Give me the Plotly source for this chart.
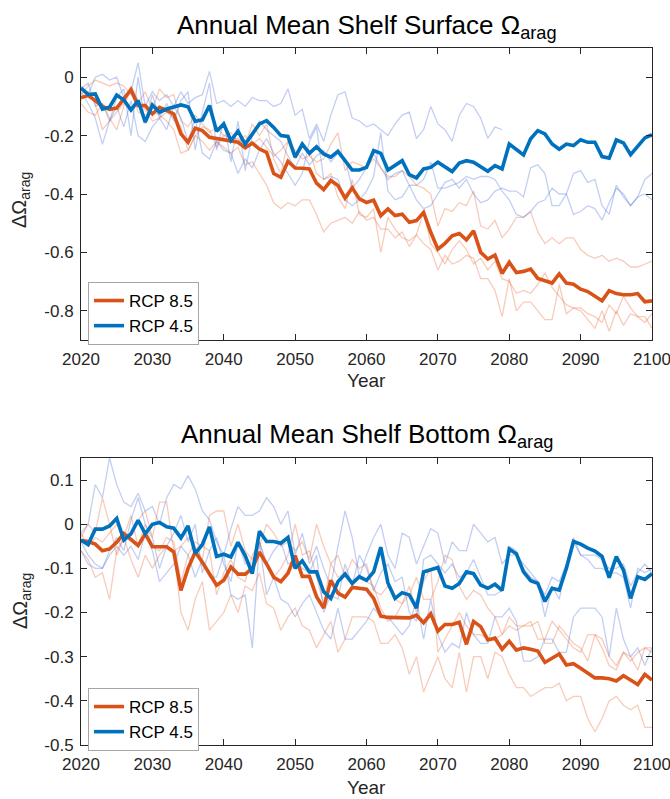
import plotly.graph_objects as go

years = list(range(2020, 2101))

# ---------------- Top panel: shelf surface ----------------
top_rcp85_mean = [
    -0.070, -0.063, -0.080, -0.100, -0.110, -0.106, -0.074, -0.043, -0.097, -0.097,
    -0.126, -0.103, -0.114, -0.126, -0.194, -0.223, -0.175, -0.183, -0.206, -0.211,
    -0.214, -0.219, -0.223, -0.242, -0.226, -0.246, -0.257, -0.330, -0.343, -0.288,
    -0.311, -0.312, -0.314, -0.363, -0.385, -0.354, -0.371, -0.414, -0.379, -0.417,
    -0.429, -0.421, -0.474, -0.451, -0.474, -0.469, -0.497, -0.491, -0.463, -0.531,
    -0.589, -0.569, -0.543, -0.535, -0.557, -0.526, -0.600, -0.623, -0.609, -0.672,
    -0.634, -0.669, -0.665, -0.657, -0.689, -0.697, -0.705, -0.674, -0.705, -0.709,
    -0.726, -0.734, -0.751, -0.766, -0.731, -0.741, -0.745, -0.745, -0.741, -0.769,
    -0.766]
top_rcp45_mean = [
    -0.037, -0.059, -0.057, -0.109, -0.103, -0.061, -0.078, -0.112, -0.080, -0.154,
    -0.095, -0.120, -0.109, -0.101, -0.095, -0.101, -0.151, -0.146, -0.097, -0.185,
    -0.160, -0.217, -0.185, -0.229, -0.194, -0.160, -0.149, -0.172, -0.200, -0.203,
    -0.274, -0.229, -0.261, -0.238, -0.263, -0.274, -0.254, -0.286, -0.318, -0.318,
    -0.309, -0.251, -0.261, -0.318, -0.303, -0.286, -0.334, -0.345, -0.314, -0.309,
    -0.291, -0.306, -0.323, -0.294, -0.286, -0.291, -0.306, -0.322, -0.303, -0.314,
    -0.229, -0.249, -0.266, -0.211, -0.183, -0.194, -0.229, -0.247, -0.229, -0.234,
    -0.214, -0.223, -0.223, -0.272, -0.277, -0.215, -0.225, -0.265, -0.234, -0.208,
    -0.197]
top_rcp85_m1 = [
    -0.06, -0.03, -0.01, -0.02, -0.03, -0.02, -0.03, -0.06, -0.09, -0.05,
    -0.11, -0.04, -0.07, -0.06, -0.15, -0.17, -0.13, -0.16, -0.19, -0.17,
    -0.20, -0.19, -0.22, -0.20, -0.23, -0.21, -0.24, -0.27, -0.25, -0.22,
    -0.25, -0.28, -0.27, -0.29, -0.28, -0.23, -0.19, -0.32, -0.29, -0.30,
    -0.31, -0.28, -0.31, -0.34, -0.34, -0.32, -0.34, -0.37, -0.38, -0.40,
    -0.51, -0.45, -0.46, -0.43, -0.44, -0.39, -0.51, -0.52, -0.49, -0.55,
    -0.52, -0.48, -0.48, -0.46, -0.53, -0.57, -0.55, -0.57, -0.55, -0.55,
    -0.59, -0.61, -0.62, -0.61, -0.63, -0.62, -0.63, -0.65, -0.65, -0.64,
    -0.63]
top_rcp85_m2 = [
    -0.09, -0.12, -0.13, -0.09, -0.14, -0.18, -0.10, -0.04, -0.12, -0.13,
    -0.12, -0.13, -0.15, -0.18, -0.26, -0.25, -0.20, -0.22, -0.25, -0.22,
    -0.24, -0.26, -0.24, -0.30, -0.29, -0.33, -0.37, -0.43, -0.45, -0.43,
    -0.44, -0.42, -0.42, -0.47, -0.53, -0.50, -0.49, -0.48, -0.50, -0.46,
    -0.49, -0.48, -0.52, -0.52, -0.55, -0.53, -0.58, -0.54, -0.57, -0.59,
    -0.66, -0.61, -0.64, -0.63, -0.61, -0.62, -0.69, -0.69, -0.73, -0.82,
    -0.69, -0.80, -0.77, -0.77, -0.80, -0.83, -0.83, -0.71, -0.81, -0.79,
    -0.80, -0.83, -0.86, -0.80, -0.87, -0.80, -0.85, -0.81, -0.82, -0.84,
    -0.81]
top_rcp85_m3 = [
    -0.08, -0.05, -0.09, -0.18, -0.15, -0.12, -0.09, -0.03, -0.08, -0.11,
    -0.15, -0.14, -0.12, -0.14, -0.17, -0.25, -0.20, -0.17, -0.18, -0.24,
    -0.20, -0.21, -0.21, -0.23, -0.16, -0.20, -0.16, -0.28, -0.33, -0.22,
    -0.28, -0.24, -0.25, -0.33, -0.35, -0.33, -0.41, -0.45, -0.35, -0.47,
    -0.48, -0.45, -0.60, -0.48, -0.52, -0.55, -0.56, -0.54, -0.46, -0.57,
    -0.60, -0.64, -0.59, -0.56, -0.59, -0.64, -0.62, -0.66, -0.63, -0.69,
    -0.70, -0.74, -0.73, -0.74, -0.71, -0.67, -0.72, -0.75, -0.78, -0.79,
    -0.79, -0.81, -0.82, -0.84, -0.78, -0.81, -0.75, -0.79, -0.82, -0.82,
    -0.86]
top_rcp45_m1 = [  # 2020-2079
    -0.03, -0.06, 0.00, 0.01, -0.01, 0.00, -0.07, -0.05, 0.05, -0.10,
    -0.05, -0.08, -0.06, -0.10, -0.05, -0.09, -0.07, -0.06, 0.02, -0.09,
    -0.08, -0.10, -0.08, -0.10, -0.07, -0.08, -0.08, -0.10, -0.09, -0.04,
    -0.13, -0.11, -0.21, -0.16, -0.22, -0.13, -0.06, -0.05, -0.14, -0.15,
    -0.17, -0.16, -0.18, -0.20, -0.16, -0.13, -0.12, -0.21, -0.18, -0.10,
    -0.16, -0.18, -0.22, -0.13, -0.09, -0.10, -0.14, -0.21, -0.17, -0.18]
top_rcp45_m2 = [
    -0.05, -0.09, -0.14, -0.23, -0.15, -0.10, -0.17, -0.08, -0.20, -0.22,
    -0.17, -0.14, -0.18, -0.10, -0.14, -0.22, -0.14, -0.26, -0.28, -0.22,
    -0.25, -0.26, -0.33, -0.28, -0.31, -0.25, -0.21, -0.26, -0.29, -0.33,
    -0.37, -0.33, -0.22, -0.17, -0.35, -0.34, -0.35, -0.42, -0.44, -0.42,
    -0.39, -0.34, -0.19, -0.39, -0.42, -0.41, -0.37, -0.42, -0.45, -0.44,
    -0.40, -0.36, -0.35, -0.38, -0.35, -0.40, -0.43, -0.42, -0.39, -0.38,
    -0.39, -0.39, -0.41, -0.31, -0.30, -0.33, -0.44, -0.44, -0.40, -0.33,
    -0.32, -0.36, -0.35, -0.44, -0.47, -0.37, -0.41, -0.44, -0.41, -0.40,
    -0.42]
top_rcp45_m3 = [
    -0.04, -0.02, -0.10, -0.09, -0.15, -0.07, -0.04, -0.20, 0.00, -0.16,
    -0.06, -0.14, -0.09, -0.15, -0.08, -0.05, -0.25, -0.12, -0.02, -0.25,
    -0.15, -0.29, -0.15, -0.32, -0.20, -0.15, -0.18, -0.20, -0.22, -0.27,
    -0.31, -0.26, -0.30, -0.27, -0.25, -0.29, -0.26, -0.28, -0.38, -0.35,
    -0.31, -0.26, -0.31, -0.35, -0.33, -0.32, -0.37, -0.37, -0.35, -0.29,
    -0.38, -0.38, -0.37, -0.36, -0.34, -0.35, -0.34, -0.34, -0.35, -0.39,
    -0.42, -0.47, -0.48, -0.46, -0.43, -0.42, -0.38, -0.40, -0.40, -0.47,
    -0.46, -0.44, -0.45, -0.49, -0.43, -0.38, -0.40, -0.44, -0.41, -0.35,
    -0.33]

# ---------------- Bottom panel: shelf bottom ----------------
bot_rcp85_mean = [
    -0.037, -0.039, -0.045, -0.060, -0.056, -0.041, -0.021, -0.034, -0.048, -0.022,
    -0.051, -0.051, -0.051, -0.063, -0.150, -0.100, -0.063, -0.086, -0.112, -0.138,
    -0.127, -0.097, -0.113, -0.113, -0.100, -0.063, -0.090, -0.120, -0.130, -0.111,
    -0.071, -0.118, -0.118, -0.164, -0.190, -0.127, -0.156, -0.165, -0.143, -0.145,
    -0.147, -0.168, -0.208, -0.211, -0.212, -0.212, -0.212, -0.206, -0.223, -0.203,
    -0.242, -0.227, -0.227, -0.222, -0.272, -0.220, -0.232, -0.262, -0.258, -0.283,
    -0.265, -0.285, -0.280, -0.283, -0.287, -0.313, -0.304, -0.294, -0.319, -0.316,
    -0.326, -0.337, -0.348, -0.348, -0.350, -0.355, -0.343, -0.353, -0.363, -0.340,
    -0.353]
bot_rcp45_mean = [
    -0.036, -0.046, -0.011, -0.011, -0.004, 0.013, -0.036, -0.022, 0.009, -0.022,
    0.000, 0.004, -0.006, -0.009, -0.031, -0.004, -0.066, -0.046, -0.006, -0.073,
    -0.068, -0.074, -0.041, -0.071, -0.112, -0.016, -0.039, -0.039, -0.043, -0.030,
    -0.100, -0.083, -0.108, -0.108, -0.153, -0.168, -0.130, -0.113, -0.134, -0.119,
    -0.127, -0.108, -0.052, -0.133, -0.168, -0.155, -0.160, -0.190, -0.108, -0.104,
    -0.098, -0.140, -0.145, -0.134, -0.108, -0.112, -0.138, -0.145, -0.136, -0.150,
    -0.056, -0.067, -0.108, -0.128, -0.134, -0.175, -0.145, -0.149, -0.100, -0.039,
    -0.045, -0.054, -0.061, -0.073, -0.121, -0.073, -0.104, -0.168, -0.119, -0.125,
    -0.112]
bot_rcp85_m1 = [
    -0.03, 0.00, -0.02, 0.06, 0.00, -0.07, -0.03, -0.02, 0.01, 0.03,
    -0.03, 0.05, 0.05, -0.06, -0.05, -0.03, -0.05, -0.08, 0.02, 0.03,
    0.03, -0.05, 0.00, -0.06, -0.08, -0.05, 0.00, -0.02, -0.05, -0.04,
    -0.06, -0.04, -0.08, 0.00, -0.05, -0.09, -0.07, -0.12, -0.08, -0.10,
    -0.09, -0.15, -0.16, -0.14, -0.17, -0.18, -0.16, -0.12, -0.17, -0.17,
    -0.13, -0.07, -0.08, -0.14, -0.17, -0.15, -0.16, -0.19, -0.21, -0.25,
    -0.21, -0.23, -0.23, -0.22, -0.26, -0.26, -0.22, -0.24, -0.26, -0.28,
    -0.29, -0.25, -0.25, -0.26, -0.30, -0.32, -0.29, -0.31, -0.29, -0.28,
    -0.28]
bot_rcp85_m2 = [
    -0.06, -0.08, -0.12, -0.11, -0.17, -0.06, -0.03, -0.08, -0.12, -0.07,
    -0.10, -0.07, -0.05, -0.06, -0.20, -0.24, -0.17, -0.13, -0.24, -0.22,
    -0.20, -0.16, -0.20, -0.14, -0.15, -0.11, -0.18, -0.19, -0.24, -0.21,
    -0.19, -0.23, -0.24, -0.28, -0.25, -0.22, -0.29, -0.26, -0.21, -0.21,
    -0.21, -0.22, -0.27, -0.27, -0.25, -0.28, -0.34, -0.30, -0.38, -0.34,
    -0.30, -0.35, -0.37, -0.29, -0.38, -0.30, -0.30, -0.35, -0.29, -0.30,
    -0.34, -0.37, -0.37, -0.39, -0.38, -0.37, -0.37, -0.36, -0.40, -0.39,
    -0.39, -0.44, -0.47, -0.44, -0.40, -0.39, -0.41, -0.42, -0.41, -0.46,
    -0.46]
bot_rcp85_m3 = [
    -0.02, -0.05, -0.03, -0.04, -0.02, 0.00, -0.03, 0.02, -0.05, 0.00,
    -0.05, -0.06, -0.03, -0.04, -0.13, -0.07, -0.04, -0.05, -0.06, -0.16,
    -0.11, -0.08, -0.12, -0.13, -0.07, -0.04, -0.09, -0.12, -0.10, -0.07,
    0.00, -0.07, -0.06, -0.12, -0.18, -0.09, -0.12, -0.11, -0.14, -0.12,
    -0.13, -0.14, -0.19, -0.22, -0.21, -0.18, -0.14, -0.20, -0.13, -0.10,
    -0.29, -0.26, -0.23, -0.20, -0.23, -0.25, -0.25, -0.26, -0.26, -0.25,
    -0.23, -0.24, -0.23, -0.23, -0.22, -0.27, -0.27, -0.23, -0.25, -0.27,
    -0.28, -0.31, -0.25, -0.28, -0.32, -0.33, -0.29, -0.30, -0.33, -0.28,
    -0.29]
bot_rcp45_m1 = [
    -0.02, 0.00, 0.09, 0.06, 0.15, 0.09, 0.05, 0.04, 0.07, 0.03,
    0.04, 0.00, 0.06, 0.09, 0.08, 0.11, 0.08, 0.03, 0.01, -0.04,
    -0.07, -0.01, 0.04, 0.02, 0.02, 0.03, 0.06, 0.04, 0.00, 0.03,
    -0.07, -0.02, -0.09, -0.05, -0.10, -0.14, -0.05, 0.03, -0.03, -0.12,
    -0.07, -0.03, 0.00, -0.07, -0.10, -0.02, -0.03, -0.09, -0.05, -0.01,
    -0.02, -0.09, -0.04, -0.06, -0.06, 0.00, -0.02, -0.04, -0.03, -0.09,
    -0.07, -0.07, -0.09, -0.11, -0.13, -0.21, -0.14, -0.17, -0.09, -0.03,
    -0.07, -0.08, -0.10, -0.10, -0.11, -0.11, -0.12, -0.19, -0.10, -0.11,
    -0.10]
bot_rcp45_m2 = [
    -0.04, -0.07, -0.09, -0.10, -0.06, -0.03, -0.06, 0.01, 0.06, 0.00,
    -0.03, -0.10, -0.05, -0.02, 0.02, -0.04, 0.00, -0.11, -0.06, -0.03,
    -0.09, -0.13, -0.04, -0.09, -0.09, -0.04, -0.09, -0.06, -0.04, -0.09,
    -0.08, -0.10, -0.11, -0.07, -0.20, -0.16, -0.17, -0.09, -0.14, -0.07,
    -0.10, -0.15, -0.11, -0.09, -0.13, -0.12, -0.20, -0.22, -0.08, -0.07,
    -0.09, -0.11, -0.09, -0.12, -0.11, -0.08, -0.12, -0.16, -0.16, -0.15,
    -0.05, -0.06, -0.10, -0.12, -0.13, -0.16, -0.12, -0.13, -0.09, -0.04,
    -0.07, -0.07, -0.07, -0.08, -0.10, -0.10, -0.09, -0.14, -0.11, -0.09,
    -0.11]
bot_rcp45_m3 = [
    -0.06, -0.09, -0.10, -0.10, -0.07, -0.05, -0.07, -0.05, -0.08, -0.02,
    -0.06, -0.13, -0.11, -0.09, -0.05, -0.07, -0.12, -0.08, -0.12, -0.12,
    -0.07, -0.16, -0.17, -0.16, -0.28, -0.04, -0.16, -0.12, -0.17, -0.18,
    -0.21, -0.18, -0.16, -0.20, -0.24, -0.26, -0.19, -0.26, -0.26, -0.24,
    -0.22, -0.19, -0.21, -0.21, -0.23, -0.25, -0.23, -0.17, -0.26, -0.17,
    -0.25, -0.29, -0.27, -0.28, -0.20, -0.25, -0.27, -0.27, -0.21, -0.21,
    -0.19, -0.22, -0.31, -0.31, -0.30, -0.26, -0.26, -0.29, -0.29, -0.21,
    -0.19, -0.19, -0.19, -0.21, -0.30, -0.19, -0.26, -0.30, -0.28, -0.32,
    -0.28]

x_ticks = [2020, 2030, 2040, 2050, 2060, 2070, 2080, 2090, 2100]
top_y_ticks = [0, -0.2, -0.4, -0.6, -0.8]
top_y_labels = ["0", "-0.2", "-0.4", "-0.6", "-0.8"]
bot_y_ticks = [0.1, 0, -0.1, -0.2, -0.3, -0.4, -0.5]
bot_y_labels = ["0.1", "0", "-0.1", "-0.2", "-0.3", "-0.4", "-0.5"]

C85 = "#D95319"
C45 = "#0072BD"
C85_FAINT = "rgba(232,110,60,0.35)"
C45_FAINT = "rgba(70,110,215,0.33)"
FONT = "Liberation Sans, Arial, Helvetica, sans-serif"
INK = "#262626"

fig = go.Figure()


def add_panel(xa, ya, o_members, b_members, m85, m45, legend_name):
    for mem in o_members:
        fig.add_trace(go.Scatter(x=years[:len(mem)], y=mem, mode="lines",
                                 line=dict(color=C85_FAINT, width=1.3),
                                 showlegend=False, hoverinfo="skip",
                                 xaxis=xa, yaxis=ya))
    for mem in b_members:
        fig.add_trace(go.Scatter(x=years[:len(mem)], y=mem, mode="lines",
                                 line=dict(color=C45_FAINT, width=1.3),
                                 showlegend=False, hoverinfo="skip",
                                 xaxis=xa, yaxis=ya))
    fig.add_trace(go.Scatter(x=years, y=m85, mode="lines", name="RCP 8.5",
                             line=dict(color=C85, width=3.6),
                             legend=legend_name, xaxis=xa, yaxis=ya))
    fig.add_trace(go.Scatter(x=years, y=m45, mode="lines", name="RCP 4.5",
                             line=dict(color=C45, width=3.6),
                             legend=legend_name, xaxis=xa, yaxis=ya))


add_panel("x", "y", [top_rcp85_m1, top_rcp85_m2, top_rcp85_m3],
          [top_rcp45_m1, top_rcp45_m2, top_rcp45_m3],
          top_rcp85_mean, top_rcp45_mean, "legend")
add_panel("x2", "y2", [bot_rcp85_m1, bot_rcp85_m2, bot_rcp85_m3],
          [bot_rcp45_m1, bot_rcp45_m2, bot_rcp45_m3],
          bot_rcp85_mean, bot_rcp45_mean, "legend2")

W, H = 670, 799
xdom = [81 / W, 652 / W]
top_dom = [1 - 340 / H, 1 - 48 / H]
bot_dom = [1 - 745 / H, 1 - 458 / H]

axis_common = dict(showline=True, linecolor=INK, linewidth=1, mirror="ticks",
                   ticks="inside", ticklen=6, tickcolor=INK, tickwidth=1,
                   showgrid=False, zeroline=False, automargin=False,
                   ticklabeloverflow="allow",
                   tickfont=dict(family=FONT, size=17, color=INK))

fig.update_layout(
    template="none",
    width=W, height=H,
    margin=dict(l=0, r=0, t=0, b=0, pad=0),
    paper_bgcolor="white", plot_bgcolor="white",
    font=dict(family=FONT, color=INK),
    xaxis=dict(domain=xdom, anchor="y", range=[2020, 2100], tickvals=x_ticks,
               ticktext=[str(v) for v in x_ticks], ticklabelstandoff=4,
               **axis_common),
    yaxis=dict(domain=top_dom, anchor="x", range=[-0.9, 0.1],
               tickvals=top_y_ticks, ticktext=top_y_labels,
               ticklabelstandoff=3, **axis_common),
    xaxis2=dict(domain=xdom, anchor="y2", range=[2020, 2100], tickvals=x_ticks,
                ticktext=[str(v) for v in x_ticks], ticklabelstandoff=4,
                **axis_common),
    yaxis2=dict(domain=bot_dom, anchor="x2", range=[-0.5, 0.15],
                tickvals=bot_y_ticks, ticktext=bot_y_labels,
                ticklabelstandoff=3, **axis_common),
    legend=dict(x=88 / W, y=1 - 282 / H, xanchor="left", yanchor="top",
                bgcolor="white", bordercolor="#a6a6a6", borderwidth=1,
                font=dict(family=FONT, size=17, color="black"),
                tracegroupgap=0),
    legend2=dict(x=88 / W, y=1 - 688 / H, xanchor="left", yanchor="top",
                 bgcolor="white", bordercolor="#a6a6a6", borderwidth=1,
                 font=dict(family=FONT, size=17, color="black"),
                 tracegroupgap=0),
    annotations=[
        dict(text="Annual Mean Shelf Surface Ω<sub>arag</sub>", x=366.5 / W,
             y=1 - 26 / H, xref="paper", yref="paper", showarrow=False,
             xanchor="center", yanchor="middle",
             font=dict(family=FONT, size=26, color="black")),
        dict(text="Annual Mean Shelf Bottom Ω<sub>arag</sub>", x=366.5 / W,
             y=1 - 435 / H, xref="paper", yref="paper", showarrow=False,
             xanchor="center", yanchor="middle",
             font=dict(family=FONT, size=26, color="black")),
        dict(text="Year", x=366.5 / W, y=1 - 380 / H, xref="paper",
             yref="paper", showarrow=False, xanchor="center",
             yanchor="middle", font=dict(family=FONT, size=19, color=INK)),
        dict(text="Year", x=366.5 / W, y=1 - 787 / H, xref="paper",
             yref="paper", showarrow=False, xanchor="center",
             yanchor="middle", font=dict(family=FONT, size=19, color=INK)),
        dict(text="ΔΩ<sub>arag</sub>", x=21 / W, y=1 - 200 / H,
             xref="paper", yref="paper", showarrow=False, textangle=-90,
             xanchor="center", yanchor="middle",
             font=dict(family=FONT, size=20, color=INK)),
        dict(text="ΔΩ<sub>arag</sub>", x=21 / W, y=1 - 601 / H,
             xref="paper", yref="paper", showarrow=False, textangle=-90,
             xanchor="center", yanchor="middle",
             font=dict(family=FONT, size=20, color=INK)),
    ],
)

fig.write_html("out.html")
